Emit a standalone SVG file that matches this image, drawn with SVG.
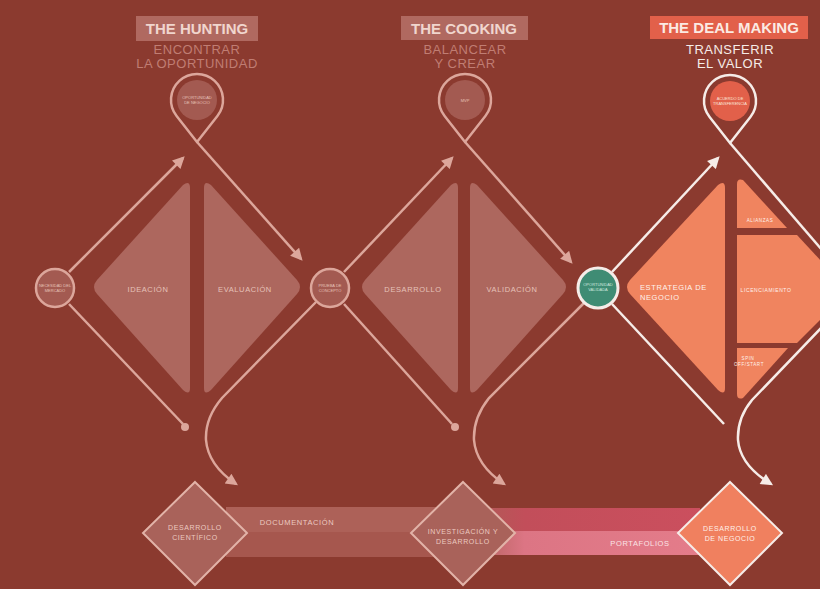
<svg xmlns="http://www.w3.org/2000/svg" width="820" height="589" viewBox="0 0 820 589">
<defs>
<style>
.hdr{font-family:"Liberation Sans",Arial,sans-serif;font-weight:bold;font-size:15px;text-anchor:middle}
.sub{font-family:"Liberation Sans",Arial,sans-serif;font-size:13px;text-anchor:middle;letter-spacing:0.5px}
.lbl{font-family:"Liberation Sans",Arial,sans-serif;font-size:7.5px;text-anchor:middle;letter-spacing:0.6px}
.lbls{font-family:"Liberation Sans",Arial,sans-serif;font-size:7.5px;text-anchor:start;letter-spacing:0.6px}
.tiny{font-family:"Liberation Sans",Arial,sans-serif;font-size:4px;text-anchor:middle}
.mline{fill:none;stroke:#dca69b;stroke-width:2.5}
.wline{fill:none;stroke:#f6ece8;stroke-width:2.5}
.mtri{fill:#ad675e}
.otri{fill:#f0845f}
.mtxt{fill:#e6c2b9}
.wtxt{fill:#fff2ec}
</style>
<marker id="am" viewBox="0 0 10 10" refX="8" refY="5" markerWidth="14" markerHeight="12" markerUnits="userSpaceOnUse" orient="auto"><path d="M0 0 L10 5 L0 10 Z" fill="#dca69b"/></marker>
<marker id="aw" viewBox="0 0 10 10" refX="8" refY="5" markerWidth="14" markerHeight="12" markerUnits="userSpaceOnUse" orient="auto"><path d="M0 0 L10 5 L0 10 Z" fill="#f6ece8"/></marker>
<linearGradient id="bandTop" x1="0" x2="1" y1="0" y2="0">
<stop offset="0" stop-color="#ab5e55"/><stop offset="0.25" stop-color="#c24e5a"/><stop offset="1" stop-color="#cb4f5e"/>
</linearGradient>
<linearGradient id="bandBot" x1="0" x2="1" y1="0" y2="0">
<stop offset="0" stop-color="#ab5e55"/><stop offset="0.25" stop-color="#dc7584"/><stop offset="1" stop-color="#e47c8a"/>
</linearGradient>
</defs>
<rect x="0" y="0" width="820" height="589" fill="#8b3a2f"/>

<!-- headers -->
<g id="header-hunting">
<rect x="136" y="16" width="122" height="25" fill="#b06960"/>
<text class="hdr" x="197" y="34" fill="#f0d6ce">THE HUNTING</text>
<text class="sub" x="197" y="54" fill="#c07d73">ENCONTRAR</text>
<text class="sub" x="197" y="68" fill="#c07d73">LA OPORTUNIDAD</text>
</g>
<g id="header-cooking">
<rect x="401" y="16" width="127" height="24" fill="#b06960"/>
<text class="hdr" x="464" y="34" fill="#f0d6ce">THE COOKING</text>
<text class="sub" x="465" y="54" fill="#c07d73">BALANCEAR</text>
<text class="sub" x="465" y="68" fill="#c07d73">Y CREAR</text>
</g>
<g id="header-deal">
<rect x="650" y="16" width="158" height="23" fill="#e2604a"/>
<text class="hdr" x="729" y="33" fill="#fbeae3">THE DEAL MAKING</text>
<text class="sub" x="730" y="54" fill="#f6ece8">TRANSFERIR</text>
<text class="sub" x="730" y="68" fill="#f6ece8">EL VALOR</text>
</g>

<!-- bottom bands -->
<g id="band-documentacion">
<rect x="226" y="507" width="240" height="25" fill="#ad6158"/>
<rect x="226" y="532" width="240" height="25" fill="#a6574e"/>
<text class="lbl" x="297" y="525" fill="#ecc9c0">DOCUMENTACIÓN</text>
</g>
<g id="band-portafolios">
<rect x="466" y="508" width="234" height="23" fill="url(#bandTop)"/>
<rect x="466" y="531" width="234" height="24" fill="url(#bandBot)"/>
<text class="lbl" x="640" y="546" fill="#fbe4e6">PORTAFOLIOS</text>
</g>

<!-- connectors -->
<g id="connectors">
<path class="mline" d="M69 272 L183 158" marker-end="url(#am)"/>
<path class="mline" d="M197 142 L301 259" marker-end="url(#am)"/>
<path class="mline" d="M69 304 L183 424"/>
<circle cx="185" cy="427" r="4" fill="#dca69b"/>
<path class="mline" d="M316 302 L222 398 Q205 418 206 440 Q208 465 236 484" marker-end="url(#am)"/>
<path class="mline" d="M344 272 L452 158" marker-end="url(#am)"/>
<path class="mline" d="M465 142 L571 262" marker-end="url(#am)"/>
<path class="mline" d="M344 304 L452 424"/>
<circle cx="455" cy="427" r="4" fill="#dca69b"/>
<path class="mline" d="M585 302 L489 398 Q473 418 474 440 Q476 465 504 484" marker-end="url(#am)"/>
<path class="wline" d="M612 272 L718 158" marker-end="url(#aw)"/>
<path class="wline" d="M730 143 L822 250"/>
<path class="wline" d="M612 304 L724 424"/>
<path class="wline" d="M822 327 L752 400 Q737 418 738 440 Q740 465 771 484" marker-end="url(#aw)"/>
</g>

<!-- phase 1 triangles -->
<g id="ideacion">
<path class="mtri" d="M190 188 Q190 180 183 185 L97 280 Q91 287 97 294 L183 390 Q190 396 190 388 Z"/>
<text class="lbl mtxt" x="148" y="292">IDEACIÓN</text>
</g>
<g id="evaluacion">
<path class="mtri" d="M204 188 Q204 180 211 185 L297 280 Q303 287 297 294 L211 390 Q204 396 204 388 Z"/>
<text class="lbl mtxt" x="245" y="292">EVALUACIÓN</text>
</g>
<!-- phase 2 triangles -->
<g id="desarrollo">
<path class="mtri" d="M458 188 Q458 180 451 185 L365 280 Q359 287 365 294 L451 390 Q458 396 458 388 Z"/>
<text class="lbl mtxt" x="413" y="292">DESARROLLO</text>
</g>
<g id="validacion">
<path class="mtri" d="M470 188 Q470 180 477 185 L563 280 Q569 287 563 294 L477 390 Q470 396 470 388 Z"/>
<text class="lbl mtxt" x="512" y="292">VALIDACIÓN</text>
</g>
<!-- phase 3 shapes -->
<g id="estrategia">
<path class="otri" d="M725 188 Q725 180 718 185 L630 280 Q624 287 630 294 L718 390 Q725 396 725 388 Z"/>
<text class="lbls wtxt" x="640" y="290">ESTRATEGIA DE</text>
<text class="lbls wtxt" x="640" y="300">NEGOCIO</text>
</g>
<g id="deal-top">
<path class="otri" d="M737 184 Q737 178 743 180 L787 228 L737 228 Z"/>
<text class="lbl wtxt" x="760" y="222" style="font-size:4.5px">ALIANZAS</text>
</g>
<g id="deal-mid">
<path class="otri" d="M737 235 L797 235 L822 262 L822 318 L797 343 L737 343 Z"/>
<text class="lbl wtxt" x="766" y="292" style="font-size:5px">LICENCIAMIENTO</text>
</g>
<g id="deal-bot">
<path class="otri" d="M737 348 L788 348 L743 398 Q737 400 737 394 Z"/>
<text class="lbl wtxt" x="748" y="360" style="font-size:4.5px">SPIN</text>
<text class="lbl wtxt" x="749" y="366" style="font-size:4.5px">OFF/START</text>
</g>

<!-- circles -->
<g id="node-necesidad">
<circle cx="55" cy="288" r="19" fill="#a35a51" stroke="#dca69b" stroke-width="2.5"/>
<text class="tiny mtxt" x="55" y="287">NECESIDAD DEL</text>
<text class="tiny mtxt" x="55" y="292">MERCADO</text>
</g>
<g id="node-prueba">
<circle cx="330" cy="288" r="19" fill="#a35a51" stroke="#dca69b" stroke-width="2.5"/>
<text class="tiny mtxt" x="330" y="287">PRUEBA DE</text>
<text class="tiny mtxt" x="330" y="292">CONCEPTO</text>
</g>
<g id="node-validada">
<circle cx="598" cy="288" r="20" fill="#3f8c74" stroke="#f6ece8" stroke-width="3"/>
<text class="tiny" x="598" y="286" fill="#cfe8de">OPORTUNIDAD</text>
<text class="tiny" x="598" y="291" fill="#cfe8de">VALIDADA</text>
</g>

<!-- pins -->
<g id="pin-hunting">
<path d="M197 142 L176.6 116.1 A26 26 0 1 1 217.4 116.1 Z" fill="none" stroke="#dca69b" stroke-width="2.5" stroke-linejoin="round"/>
<circle cx="197" cy="100" r="20" fill="#a35a51"/>
<text class="tiny mtxt" x="197" y="99">OPORTUNIDAD</text>
<text class="tiny mtxt" x="197" y="104">DE NEGOCIO</text>
</g>
<g id="pin-cooking">
<path d="M465 142 L444.6 116.1 A26 26 0 1 1 485.4 116.1 Z" fill="none" stroke="#dca69b" stroke-width="2.5" stroke-linejoin="round"/>
<circle cx="465" cy="100" r="20" fill="#a35a51"/>
<text class="tiny mtxt" x="465" y="102">MVP</text>
</g>
<g id="pin-deal">
<path d="M730 143 L709.6 117.1 A26 26 0 1 1 750.4 117.1 Z" fill="none" stroke="#f6ece8" stroke-width="2.5" stroke-linejoin="round"/>
<circle cx="730" cy="101" r="20" fill="#e2604a"/>
<text class="tiny" x="730" y="100" fill="#fbe4dc">ACUERDO DE</text>
<text class="tiny" x="730" y="105" fill="#fbe4dc">TRANSFERENCIA</text>
</g>

<!-- bottom diamonds -->
<g id="desarrollo-cientifico">
<path d="M195 482 L247 533 L195 585 L143 533 Z" fill="#a9625a" stroke="#e2b3a8" stroke-width="2"/>
<text class="lbl" x="195" y="530" fill="#ecc9c0" style="font-size:7px">DESARROLLO</text>
<text class="lbl" x="195" y="540" fill="#ecc9c0" style="font-size:7px">CIENTÍFICO</text>
</g>
<g id="investigacion-desarrollo">
<path d="M463 482 L515 533 L463 585 L411 533 Z" fill="#a9625a" stroke="#e2b3a8" stroke-width="2"/>
<text class="lbl" x="463" y="534" fill="#ecc9c0" style="font-size:7px">INVESTIGACIÓN Y</text>
<text class="lbl" x="463" y="544" fill="#ecc9c0" style="font-size:7px">DESARROLLO</text>
</g>
<g id="desarrollo-negocio">
<path d="M730 482 L782 533 L730 585 L678 533 Z" fill="#f0805f" stroke="#f6ece8" stroke-width="2"/>
<text class="lbl" x="730" y="531" fill="#fff0ea" style="font-size:7px">DESARROLLO</text>
<text class="lbl" x="730" y="541" fill="#fff0ea" style="font-size:7px">DE NEGOCIO</text>
</g>
</svg>
